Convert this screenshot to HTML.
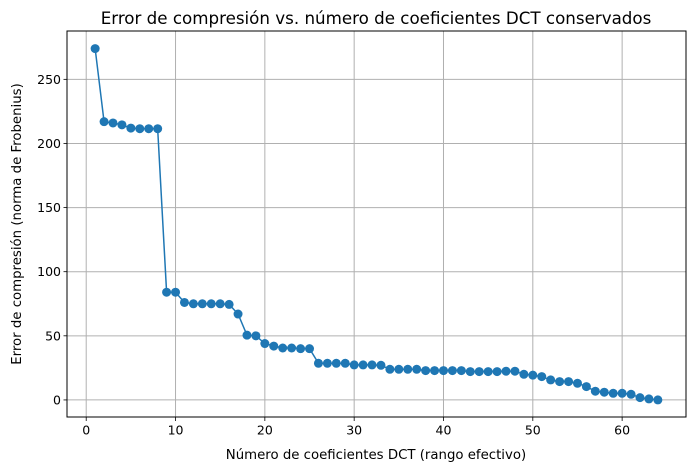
<!DOCTYPE html>
<html><head><meta charset="utf-8"><style>
body{margin:0;background:#fff;}
svg{display:block;font-family:"DejaVu Sans","Liberation Sans",sans-serif;}
</style></head><body>
<svg id="chart" width="696" height="471" viewBox="0 0 696 471" xmlns="http://www.w3.org/2000/svg">
<rect x="0" y="0" width="696" height="471" fill="#fff"/>
<g id="grid"></g>
<g id="ticks"></g>
<g id="series"></g>
<rect x="67" y="31" width="619" height="386" fill="none" stroke="#000" stroke-width="1"/>
<text x="376" y="24" text-anchor="middle" font-size="16.7">Error de compresión vs. número de coeficientes DCT conservados</text>
<text x="376" y="459" text-anchor="middle" font-size="13.3">Número de coeficientes DCT (rango efectivo)</text>
<text x="21" y="224" text-anchor="middle" font-size="13.3" transform="rotate(-90 21 224)">Error de compresión (norma de Frobenius)</text>
</svg>
<script>
const xTicks=[0,10,20,30,40,50,60];
const yTicks=[0,50,100,150,200,250];
const errors=[274,217,216,214.5,212,211.5,211.5,211.5,84,84,76,75,75,75,75,74.5,67,50.5,50,44,42,40.5,40.5,40,40,28.6,28.6,28.6,28.6,27.3,27.3,27.3,27,23.9,23.9,23.9,23.9,22.9,22.9,22.9,22.9,22.9,22.1,22.1,22.1,22.1,22.4,22.4,20,19.3,18.2,15.6,14.3,14.3,13,10.4,6.8,6,5.2,5.2,4.4,1.8,0.8,0];
const ns="http://www.w3.org/2000/svg";
const L=67,R=686,T=31,B=417.5;
const xmin=-2.15,xmax=67.15,ymin=-13.7,ymax=287.7;
function sx(v){return L+(v-xmin)/(xmax-xmin)*(R-L);}
function sy(v){return B-(v-ymin)/(ymax-ymin)*(B-T);}
function mk(tag,at,parent){const e=document.createElementNS(ns,tag);for(const k in at)e.setAttribute(k,at[k]);parent.appendChild(e);return e;}
const grid=document.getElementById('grid'),ticks=document.getElementById('ticks'),series=document.getElementById('series');
xTicks.forEach(t=>{const x=sx(t);
 const g=mk('line',{x1:x,x2:x,y1:T,y2:B,stroke:'#b0b0b0','stroke-width':1},grid);
 
 
 const tk=mk('line',{x1:x,x2:x,y1:B,y2:B+3.5,stroke:'#000','stroke-width':0.8},ticks);
 
 
 const tx=mk('text',{x:x,y:B+17,'text-anchor':'middle','font-size':12.5},ticks);tx.textContent=t;
 
 
});
yTicks.forEach(t=>{const y=sy(t);
 const g=mk('line',{x1:L,x2:R,y1:y,y2:y,stroke:'#b0b0b0','stroke-width':1},grid);
 
 
 const tk=mk('line',{x1:L-3.5,x2:L,y1:y,y2:y,stroke:'#000','stroke-width':0.8},ticks);
 
 
 const tx=mk('text',{x:L-6,y:y+4.5,'text-anchor':'end','font-size':12.5},ticks);tx.textContent=t;
 
 
});
const pts=errors.map((v,i)=>sx(i+1)+','+sy(v)).join(' ');
const line=mk('polyline',{points:pts,fill:'none',stroke:'#1f77b4','stroke-width':1.5},series);


errors.forEach((v,i)=>{const c=mk('circle',{cx:sx(i+1),cy:sy(v),r:4.5,fill:'#1f77b4'},series);
 
 
});
</script>
</body></html>
